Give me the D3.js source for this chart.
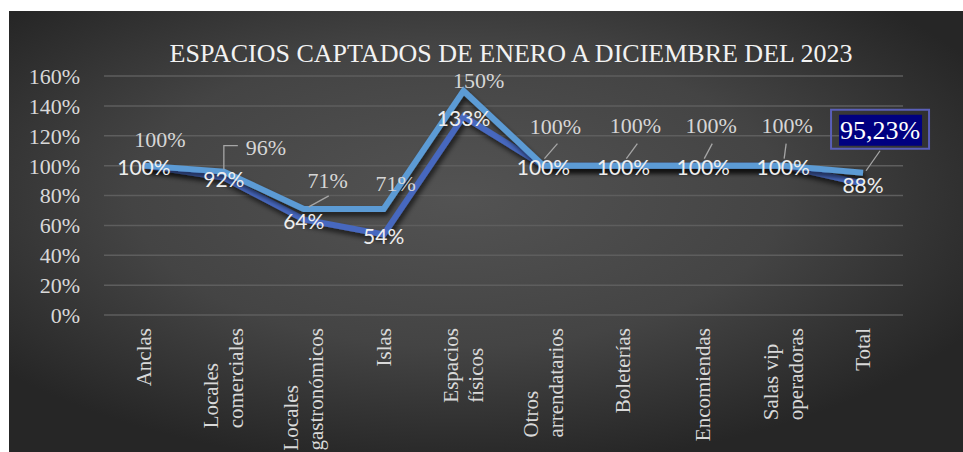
<!DOCTYPE html>
<html>
<head>
<meta charset="utf-8">
<script src="https://cdn.jsdelivr.net/npm/d3@7"></script>
<style>
  body { margin: 0; background: #fff; }
  svg { display: block; }
</style>
</head>
<body>
<svg width="963" height="452"></svg>
<script>
var title = 'ESPACIOS CAPTADOS DE ENERO A DICIEMBRE DEL 2023';
var categories = ['Anclas', 'Locales comerciales', 'Locales gastronómicos', 'Islas', 'Espacios físicos',
    'Otros arrendatarios', 'Boleterías', 'Encomiendas', 'Salas vip operadoras', 'Total'];
var seriesDark = [1, 0.92, 0.64, 0.54, 1.33, 1, 1, 1, 1, 0.88];
var seriesLight = [1, 0.96, 0.71, 0.71, 1.5, 1, 1, 1, 1, 0.9523];
var yTicks = [0, 0.2, 0.4, 0.6, 0.8, 1, 1.2, 1.4, 1.6];

// where the light series labels sit, relative to their point
var lightLabelOffset = [[16, -26], [42, -24], [24, -29], [12, -26], [15, -11],
    [12, -39], [12, -40], [8, -40], [4, -40], [17, -43]];
// leader lines, relative to the point (null = none)
var leaders = [null, [[0, -2], [0, -26], [14, -26]], [[5, -2], [25, -13]], null, null,
    [[1, -7], [14, -22]], [[3, -7], [14, -22]], [[1, -7], [9, -22]], [[1, -7], [3, -22]], [[3, -2], [17, -22]]];

var locale = d3.formatLocale({ decimal: ',', thousands: '.', grouping: [3], currency: ['', '$'] });
function pct (v) {
    var whole = Math.abs(v * 100 - Math.round(v * 100)) < 1e-6;
    return locale.format(whole ? '.0%' : '.2%')(v);
}

var svg = d3.select('svg');
var W = 963, H = 452;
var plot = { left: 104, right: 903, top: 76, bottom: 315 };

var defs = svg.append('defs');
var grad = defs.append('radialGradient')
    .attr('id', 'bg')
    .attr('cx', '0.47').attr('cy', '0.42')
    .attr('r', '0.62');
grad.append('stop').attr('offset', '0').attr('stop-color', '#535353');
grad.append('stop').attr('offset', '0.55').attr('stop-color', '#444444');
grad.append('stop').attr('offset', '1').attr('stop-color', '#262626');

var shadow = defs.append('filter').attr('id', 'shadow')
    .attr('x', '-10%').attr('y', '-10%').attr('width', '120%').attr('height', '130%');
shadow.append('feDropShadow')
    .attr('dx', 2).attr('dy', 4).attr('stdDeviation', 2.5)
    .attr('flood-color', '#000').attr('flood-opacity', 0.65);

svg.append('rect')
    .attr('x', 9).attr('y', 11)
    .attr('width', W - 9).attr('height', H - 11)
    .attr('fill', 'url(#bg)');

var x = d3.scaleBand()
    .domain(categories)
    .range([plot.left, plot.right]);
var y = d3.scaleLinear()
    .domain([0, 1.6])
    .range([plot.bottom, plot.top]);
function cx (d) { return x(d) + x.bandwidth() / 2; }

// gridlines
svg.append('g')
    .selectAll('line')
    .data(yTicks)
    .enter().append('line')
    .attr('x1', plot.left).attr('x2', plot.right)
    .attr('y1', function (d) { return y(d); })
    .attr('y2', function (d) { return y(d); })
    .attr('stroke', '#5e5e5e')
    .attr('stroke-width', 1.5);

// y axis labels
var yAxis = d3.axisLeft(y)
    .tickValues(yTicks)
    .tickFormat(d3.format('.0%'))
    .tickSize(0)
    .tickPadding(0);
var ya = svg.append('g')
    .attr('transform', 'translate(80,0)')
    .call(yAxis);
ya.select('.domain').remove();
ya.selectAll('text')
    .attr('fill', '#d9d9d9')
    .attr('font-family', '"Liberation Serif", "Times New Roman", serif')
    .attr('font-size', 22)
    .attr('dy', '0.34em');

// x axis labels, rotated, wrapped on last space
var xl = svg.append('g');
categories.forEach(function (c) {
    var cut = c.lastIndexOf(' ');
    var lines = cut > 0 ? [c.slice(0, cut), c.slice(cut + 1)] : [c];
    var g = xl.append('g')
        .attr('transform', 'translate(' + cx(c) + ',328) rotate(-90)');
    var t = g.append('text')
        .attr('fill', '#d9d9d9')
        .attr('font-family', '"Liberation Serif", "Times New Roman", serif')
        .attr('font-size', 21);
    var lh = 25;
    lines.forEach(function (s, i) {
        t.append('tspan')
            .attr('y', (i - (lines.length - 1) / 2) * lh)
            .attr('dy', '0.33em')
            .text(s);
    });
    var maxLen = 0;
    t.selectAll('tspan').each(function () {
        maxLen = Math.max(maxLen, this.getComputedTextLength());
    });
    t.selectAll('tspan').attr('x', -maxLen);
});

// lines
var line = d3.line()
    .x(function (d, i) { return cx(categories[i]); })
    .y(function (d) { return y(d); });

svg.append('path')
    .datum(seriesDark)
    .attr('d', line)
    .attr('fill', 'none')
    .attr('stroke', '#4668bf')
    .attr('stroke-width', 6)
    .attr('stroke-linejoin', 'miter')
    .attr('filter', 'url(#shadow)');

svg.append('path')
    .datum(seriesLight)
    .attr('d', line)
    .attr('fill', 'none')
    .attr('stroke', '#5b9bd5')
    .attr('stroke-width', 6)
    .attr('stroke-linejoin', 'miter')
    .attr('filter', 'url(#shadow)');

// leader lines
var leaderData = seriesLight.map(function (v, i) {
    return { px: cx(categories[i]), py: y(v), pts: leaders[i] };
}).filter(function (d) { return d.pts; });

svg.append('g')
    .selectAll('path')
    .data(leaderData)
    .enter().append('path')
    .attr('d', function (d) {
        return d3.line()(d.pts.map(function (p) { return [d.px + p[0], d.py + p[1]]; }));
    })
    .attr('fill', 'none')
    .attr('stroke', '#a6a6a6')
    .attr('stroke-width', 1.3);

// light series labels
var last = seriesLight.length - 1;
var ll = svg.append('g');
seriesLight.forEach(function (v, i) {
    var px = cx(categories[i]) + lightLabelOffset[i][0];
    var py = y(v) + lightLabelOffset[i][1];
    if (i === last) {
        ll.append('rect')
            .attr('x', px - 49).attr('y', py - 20)
            .attr('width', 98).attr('height', 39)
            .attr('fill', 'none')
            .attr('stroke', '#5a5fb8')
            .attr('stroke-width', 2);
        ll.append('rect')
            .attr('x', px - 41).attr('y', py - 15)
            .attr('width', 83).attr('height', 31)
            .attr('fill', '#000080');
    }
    ll.append('text')
        .attr('x', px).attr('y', py)
        .attr('dy', '0.35em')
        .attr('text-anchor', 'middle')
        .attr('fill', i === last ? '#ffffff' : '#d6d6d6')
        .attr('font-family', '"Liberation Serif", "Times New Roman", serif')
        .attr('font-size', i === last ? 26 : 22)
        .text(pct(v));
});

// dark series labels, centred on the point
svg.append('g')
    .selectAll('text')
    .data(seriesDark)
    .enter().append('text')
    .attr('x', function (d, i) { return cx(categories[i]); })
    .attr('y', function (d) { return y(d) + 2; })
    .attr('dy', '0.35em')
    .attr('text-anchor', 'middle')
    .attr('fill', '#eeeeee')
    .attr('font-family', 'Lato, "Liberation Sans", sans-serif')
    .attr('font-size', 21)
    .text(pct);

// title
svg.append('text')
    .attr('x', 511).attr('y', 62)
    .attr('text-anchor', 'middle')
    .attr('fill', '#f2f2f2')
    .attr('font-family', '"Liberation Serif", "Times New Roman", serif')
    .attr('font-size', 26)
    .text(title);
</script>
</body>
</html>
